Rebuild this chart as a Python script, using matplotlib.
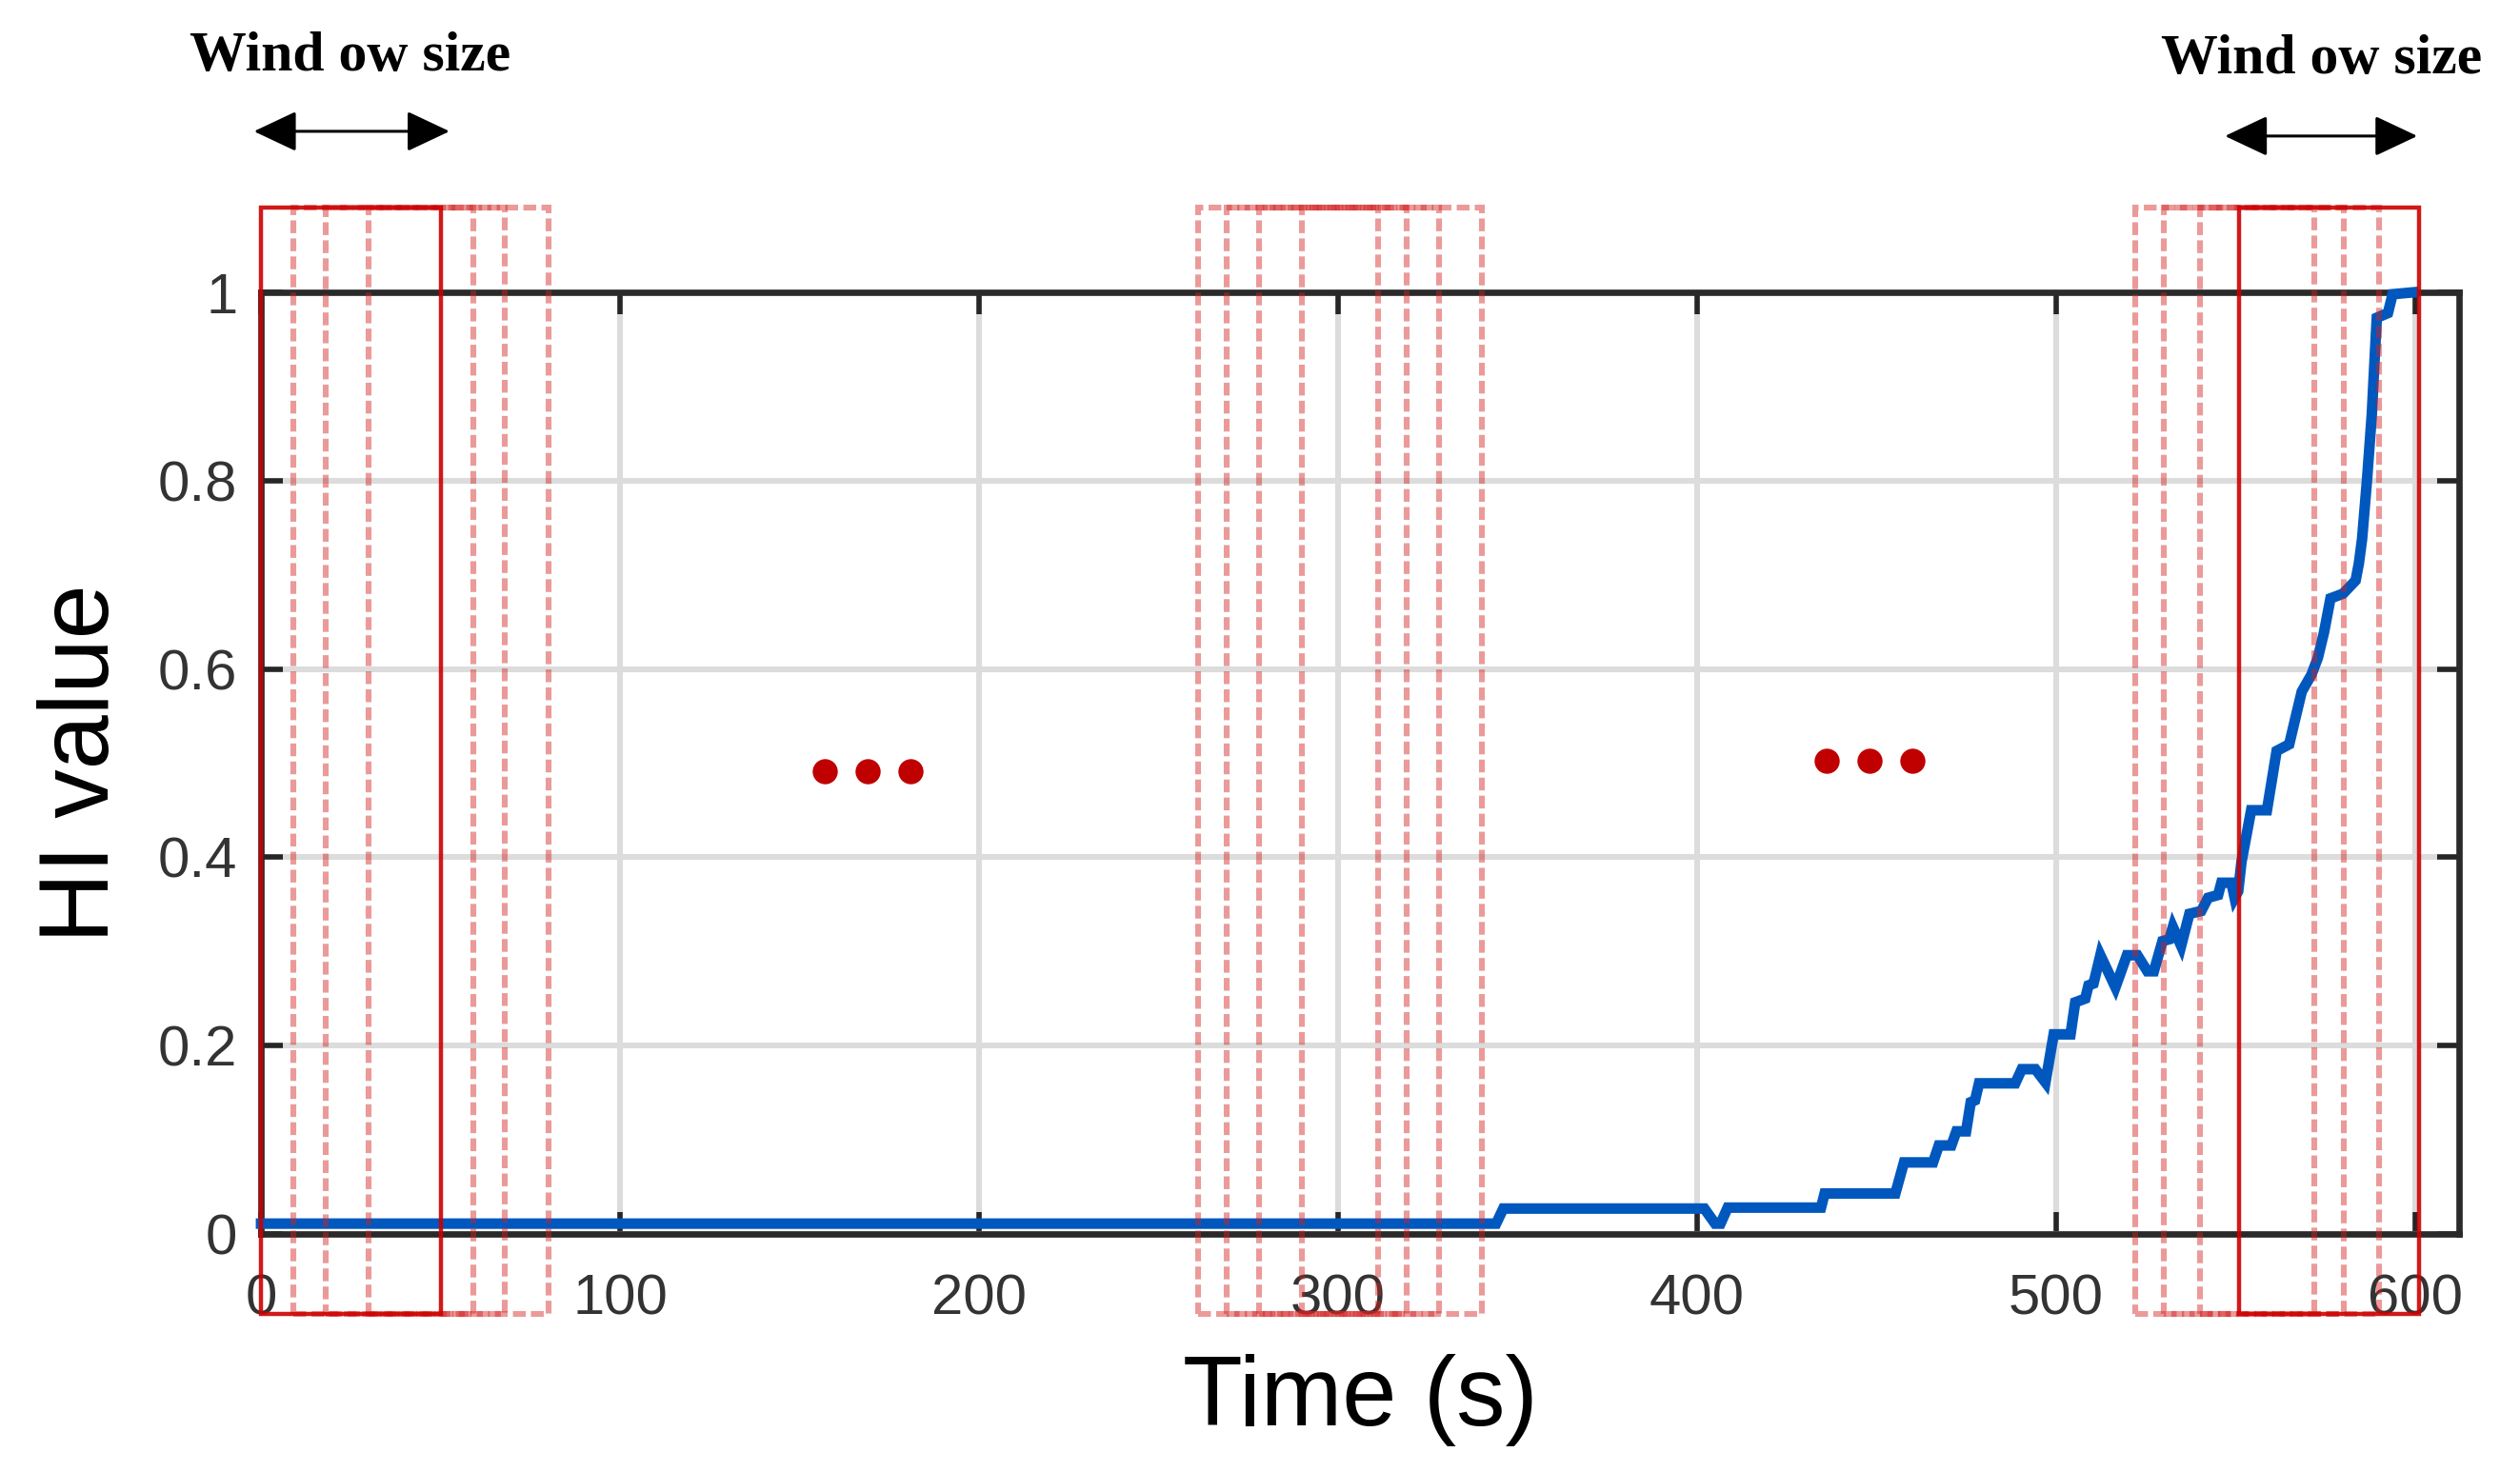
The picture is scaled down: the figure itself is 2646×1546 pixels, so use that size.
import matplotlib
matplotlib.use("Agg")
from matplotlib import pyplot as plt
from matplotlib.patches import Rectangle

# HI curve (time in s, HI value)
time_s = [0, 344, 346, 402, 405, 406.5, 408.5, 434.5, 435.5, 455.2, 457.6, 465.7,
          467.3, 470.8, 472.2, 474.9, 476.2, 477.4, 478.5, 488.6, 490.4, 494.2,
          497, 499.3, 504, 505.3, 508.1, 509, 510.4, 512.3, 516.5, 519.7, 522.6,
          525.4, 527.2, 529.6, 531.5, 532.5, 534.8, 537.1, 540.4, 542.3, 545.1,
          546, 548.8, 549.7, 550.7, 551.6, 554.3, 558.7, 561.4, 564.9, 566.7,
          568.4, 571.1, 572.9, 574.6, 576.4, 579.9, 583.4, 584.3, 585.2, 586.6,
          587.9, 588.8, 589.3, 592.4, 593.7, 599.4]
hi_value = [0.011, 0.011, 0.027, 0.027, 0.011, 0.011, 0.028, 0.028, 0.043, 0.043,
            0.076, 0.076, 0.094, 0.094, 0.109, 0.109, 0.14, 0.142, 0.16, 0.16,
            0.175, 0.175, 0.161, 0.212, 0.212, 0.246, 0.25, 0.264, 0.266, 0.296,
            0.262, 0.296, 0.296, 0.279, 0.279, 0.311, 0.313, 0.326, 0.306, 0.34,
            0.343, 0.357, 0.36, 0.373, 0.373, 0.357, 0.364, 0.395, 0.45, 0.45,
            0.513, 0.52, 0.549, 0.576, 0.594, 0.612, 0.639, 0.675, 0.68, 0.694,
            0.712, 0.738, 0.802, 0.87, 0.937, 0.973, 0.978, 0.998, 1.0]

# sliding windows (start times), all 50 s wide
window_len = 50
left_starts = [0, 9, 18, 30]
mid_starts = [261, 269, 278, 290]
right_starts = [522, 530, 540, 551]
solid_starts = [0, 551]

# "..." markers
dots1_x = [157, 169, 181]
dots1_y = [0.491, 0.491, 0.491]
dots2_x = [436, 448, 460]
dots2_y = [0.503, 0.503, 0.503]

x_ticks = [0, 100, 200, 300, 400, 500, 600]
y_ticks = [0, 0.2, 0.4, 0.6, 0.8, 1]
y_tick_labels = ["0", "0.2", "0.4", "0.6", "0.8", "1"]

fig = plt.figure(figsize=(13.23, 7.73), dpi=200)
ax = fig.add_axes([0.1036, 0.1617, 0.8722, 0.6397])

ax.plot(time_s, hi_value, color="#0058BE", lw=4.0, zorder=3, clip_on=False,
        solid_joinstyle="miter")

#windows
box_lo, box_hi = -0.085, 1.09
for s in left_starts + mid_starts + right_starts:
    if s in solid_starts:
        continue
    ax.add_patch(Rectangle((s, box_lo), window_len, box_hi - box_lo, fill=False,
                           edgecolor="#D42020", alpha=0.45, lw=2.2,
                           linestyle=(0, (2.2, 0.9)), clip_on=False, zorder=4))
for s in solid_starts:
    ax.add_patch(Rectangle((s, box_lo), window_len, box_hi - box_lo, fill=False,
                           edgecolor="#CC0000", alpha=0.9, lw=1.6,
                           clip_on=False, zorder=5))

ax.plot(dots1_x, dots1_y, "o", color="#C00000", ms=8.5, zorder=4)
ax.plot(dots2_x, dots2_y, "o", color="#C00000", ms=8.5, zorder=4)

# window size arrows + text
for x0, x1, ya, xt, yt in [(-2, 52.5, 1.171, 24.7, 1.25), (547, 600.6, 1.166, 573.8, 1.247)]:
    ax.annotate("", xy=(x1, ya), xytext=(x0, ya), annotation_clip=False,
                arrowprops=dict(arrowstyle="<|-|>,head_length=0.7,head_width=0.33",
                                mutation_scale=20, color="black", lw=1.1,
                                shrinkA=0, shrinkB=0))
    ax.text(xt, yt, "Wind ow size", fontsize=21.5, fontweight="bold",
            family="Liberation Serif", ha="center", va="center", clip_on=False)

ax.set_xlim(0, 612.2)
ax.set_ylim(0, 1)
ax.set_xticks(x_ticks)
ax.set_yticks(y_ticks)
ax.set_yticklabels(y_tick_labels)
ax.grid(True, color="#DCDCDC", lw=2.2, zorder=0)
ax.set_axisbelow(True)
ax.tick_params(direction="in", length=8.3, width=2.0, color="#262626",
               top=True, right=True, labelsize=21.5, labelcolor="#333333")
ax.tick_params(axis="x", pad=15)
ax.tick_params(axis="y", pad=9)
for lbl in ax.get_xticklabels() + ax.get_yticklabels():
    lbl.set_family("Liberation Sans")
for sp in ax.spines.values():
    sp.set_linewidth(2.4)
    sp.set_color("#2A2A2A")

ax.set_xlabel("Time (s)", fontsize=37, family="Liberation Sans")
ax.set_ylabel("HI value", fontsize=37, family="Liberation Sans")
ax.xaxis.set_label_coords(0.5, -0.127)
ax.yaxis.set_label_coords(-0.06, 0.5)

fig.savefig("out.png", dpi=200)
